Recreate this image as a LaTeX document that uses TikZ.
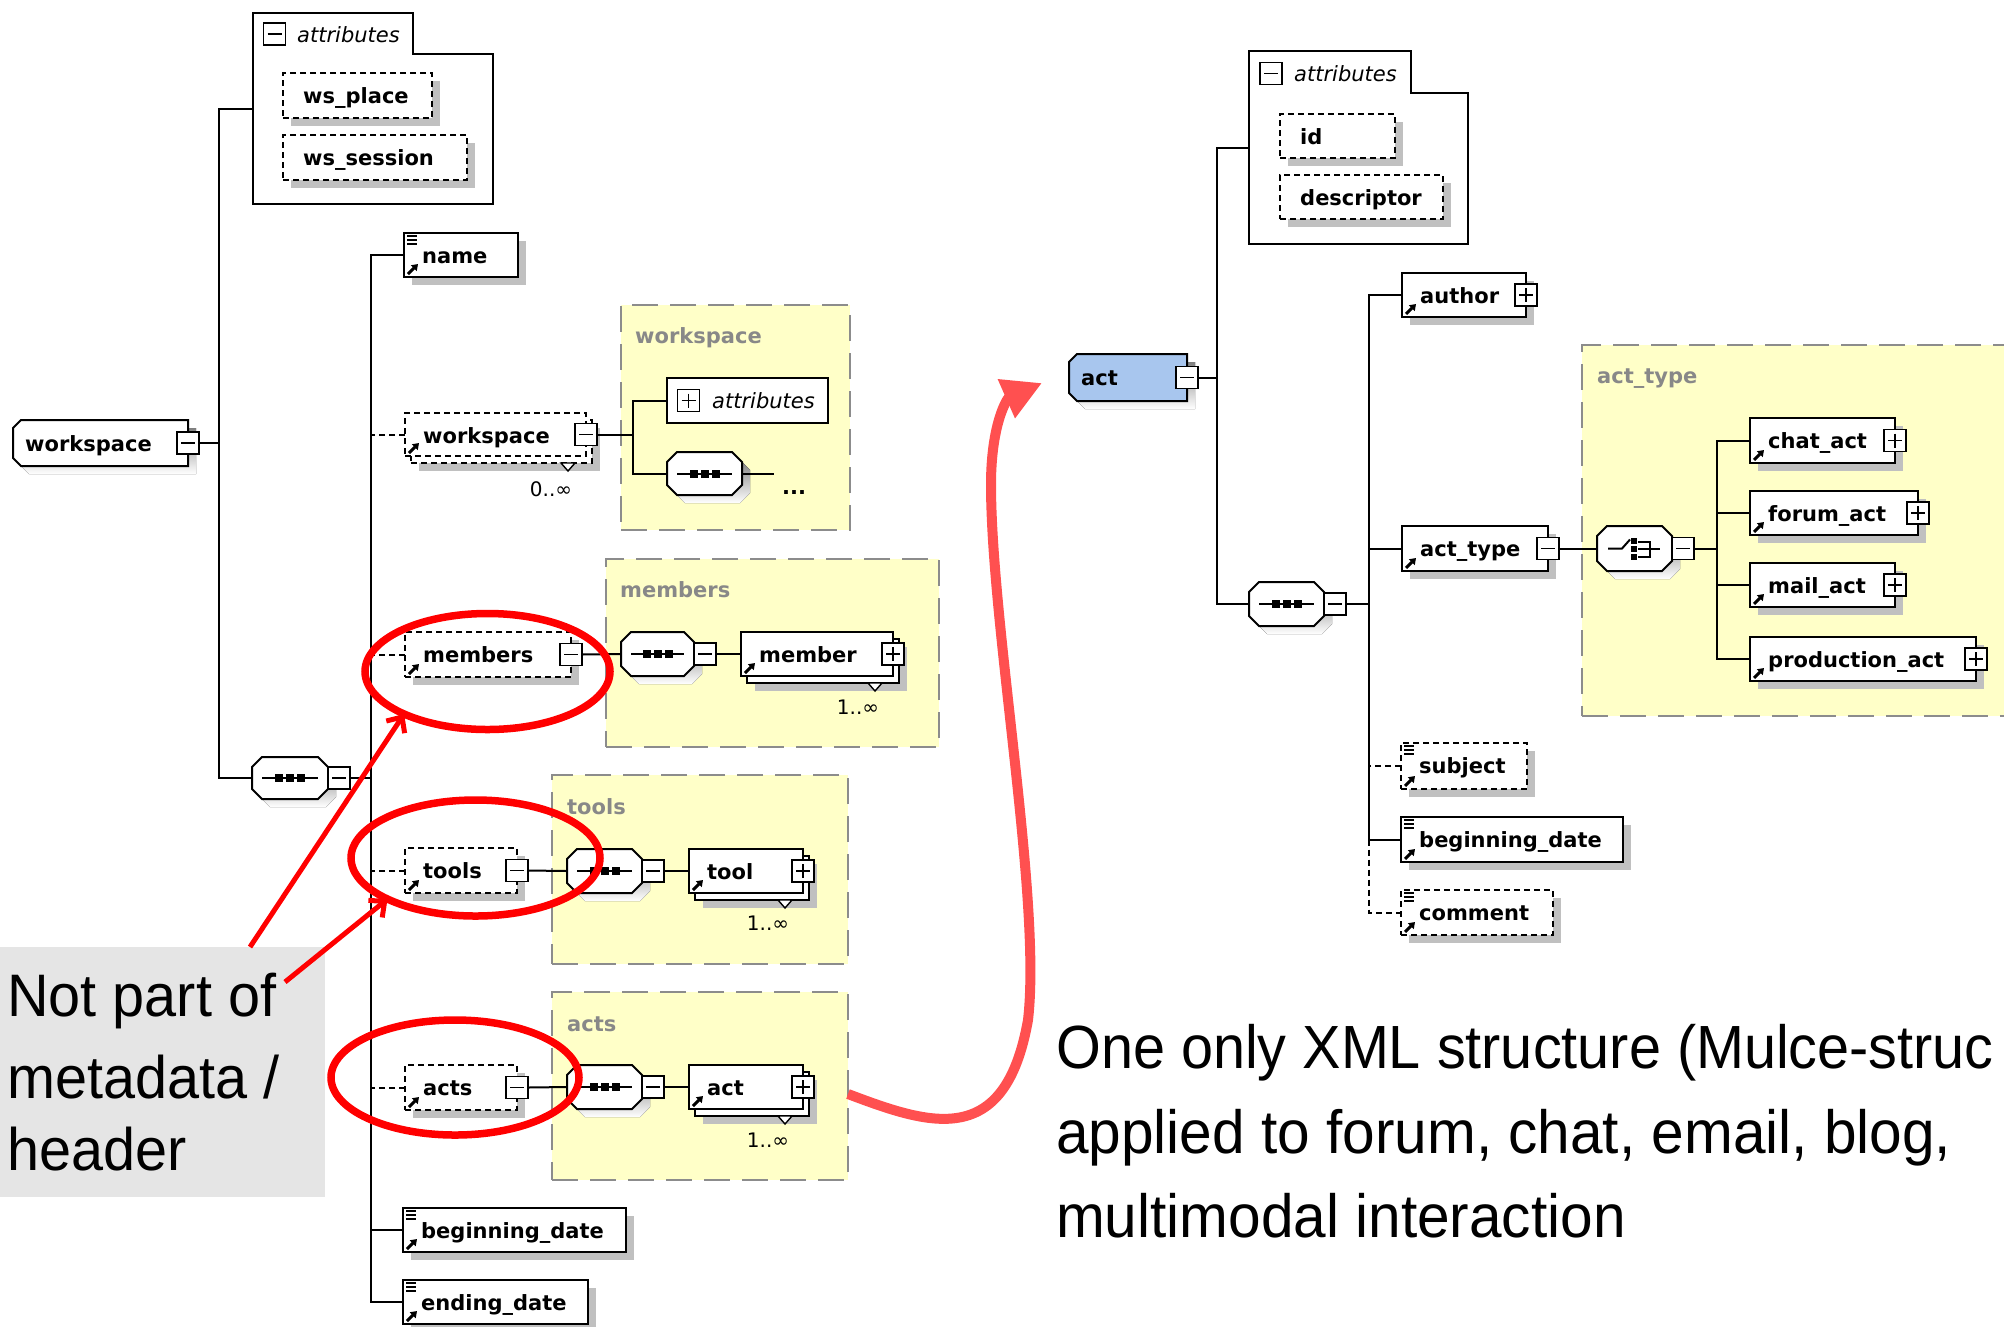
\documentclass[tikz,border=0pt]{standalone}
\usepackage{fontspec}
\setmainfont{DejaVu Sans}
\newfontfamily\notefont[FakeStretch=0.96]{Liberation Sans}
\newfontfamily\tightfont[FakeStretch=0.944]{Liberation Sans}
\usetikzlibrary{arrows.meta,shapes.geometric,shadows,calc}

\definecolor{shade}{HTML}{C0C0C0}
\definecolor{pale}{HTML}{FFFFC8}
\definecolor{framegray}{HTML}{8C8C8C}
\definecolor{labelgray}{HTML}{888888}
\definecolor{rootblue}{HTML}{A8C6EE}
\definecolor{notegray}{HTML}{E5E5E5}
\definecolor{curvered}{HTML}{FF5050}

\newcommand\tagfont{\bfseries\fontsize{21}{21}\selectfont}
\newcommand\attrfont{\itshape\fontsize{21}{21}\selectfont}
\newcommand\countfont{\fontsize{20}{20}\selectfont}

% element box: [options]{name}{x}{y}{width}{height}{text}
\newcommand\elembox[7][]{%
  \node[elembase,shadowed,#1,minimum width=#5pt,minimum height=#6pt] (#2) at (#3,#4) {};
  \node[tagtext] (#2-t) at ($(#2.north west)+(18,30)$) {#7};
  \draw[refmark] ($(#2.south west)+(4,-3)$) -- ++(10,-10);
}
% element with several occurrences (stacked pair of boxes)
\newcommand\multibox[7][]{%
  \node[elembase,shadowed,#1,minimum width=#5pt,minimum height=#6pt] (#2-b) at ($(#3,#4)+(6,7)$) {};
  \draw[line width=1.4pt, fill=white] ($(#2-b.south east)+(-31,0)$) -- ++(14,0) -- ++(-7,8) -- cycle;
  \node[elembase,#1,minimum width=#5pt,minimum height=#6pt] (#2) at (#3,#4) {};
  \node[tagtext] (#2-t) at ($(#2.north west)+(18,30)$) {#7};
  \draw[refmark] ($(#2.south west)+(4,-3)$) -- ++(10,-10);
}
% attribute box: {name}{x}{y}{width}{height}{text}
\newcommand\attrbox[6]{%
  \node[elembase,optdash,shadowed,minimum width=#4pt,minimum height=#5pt] (#1) at (#2,#3) {};
  \node[tagtext] (#1-t) at ($(#1.north west)+(20,30)$) {#6};
}
% simple-content marker
\newcommand\listicon[1]{%
  \foreach \k in {3,7,11}{\draw[line width=1.7pt] ($(#1.north west)+(3,\k)$) -- ++(10,0);}
}
% attribute group folder: {name}{tab width}{tab height}
\newcommand\folderbox[3]{%
  \draw[line width=2pt, fill=white] (#1.north west) -- ($(#1.north west)+(#2,0)$)
    -- ($(#1.north west)+(#2,#3)$) -- ($(#1.north east)+(0,#3)$)
    -- (#1.south east) -- (#1.south west) -- cycle;
}
% root element: {name}{x}{y}{width}{height}{text}{fill}
\newcommand\topelement[7]{%
  \node[holder,minimum width=#4pt,minimum height=#5pt] (#1) at (#2,#3) {};
  \begin{scope}[transform canvas={xshift=8pt,yshift=-8pt}]
    \fill[shade] ($(#1.north west)+(8,0)$) -- (#1.north east) -- (#1.south east)
      -- ($(#1.south west)+(8,0)$) -- ($(#1.south west)+(0,-8)$) -- ($(#1.north west)+(0,8)$) -- cycle;
  \end{scope}
  \draw[line width=2pt, fill=#7] ($(#1.north west)+(8,0)$) -- (#1.north east) -- (#1.south east)
      -- ($(#1.south west)+(8,0)$) -- ($(#1.south west)+(0,-8)$) -- ($(#1.north west)+(0,8)$) -- cycle;
  \node[tagtext] (#1-t) at ($(#1.north west)+(12,31)$) {#6};
}
% octagonal compositor outline
\newcommand\octshape[1]{%
  \begin{scope}[transform canvas={xshift=8pt,yshift=-8pt}]
    \fill[shade] ($(#1.north west)+(10,0)$) -- ($(#1.north east)+(-10,0)$) -- ($(#1.north east)+(0,10)$)
      -- ($(#1.south east)+(0,-10)$) -- ($(#1.south east)+(-10,0)$) -- ($(#1.south west)+(10,0)$)
      -- ($(#1.south west)+(0,-10)$) -- ($(#1.north west)+(0,10)$) -- cycle;
  \end{scope}
  \draw[line width=2pt, fill=white] ($(#1.north west)+(10,0)$) -- ($(#1.north east)+(-10,0)$) -- ($(#1.north east)+(0,10)$)
      -- ($(#1.south east)+(0,-10)$) -- ($(#1.south east)+(-10,0)$) -- ($(#1.south west)+(10,0)$)
      -- ($(#1.south west)+(0,-10)$) -- ($(#1.north west)+(0,10)$) -- cycle;
}
% sequence compositor: {name}{x}{y}{width}{height}
\newcommand\seqbox[5]{%
  \node[holder,minimum width=#4pt,minimum height=#5pt] (#1) at (#2,#3) {};
  \octshape{#1}
  \draw[line width=2pt] ($(#1.west)+(10,0)$) -- ($(#1.east)+(-10,0)$);
  \foreach \d in {-11,0,11}{\fill ($(#1.center)+(\d,0)$) +(-4,-4) rectangle +(4,4);}
}
% choice compositor: {name}{x}{y}{width}{height}
\newcommand\choicebox[5]{%
  \node[holder,minimum width=#4pt,minimum height=#5pt] (#1) at (#2,#3) {};
  \octshape{#1}
  \draw[line width=2pt] ($(#1.west)+(11,0)$) -- ++(14,0) -- ++(8,-9);
  \foreach \d in {-8,0,8}{\fill ($(#1.west)+(37,\d)$) +(-3,-3) rectangle +(3,3);}
  \draw[line width=2pt] ($(#1.west)+(41,-7)$) -- ++(12,0) -- ++(0,15) -- ++(-12,0);
  \draw[line width=2pt] ($(#1.west)+(41,0)$) -- ++(22,0);
}

\begin{document}
\begin{tikzpicture}[x=1pt,y=-1pt,
  holder/.style={rectangle,anchor=north west,inner sep=0pt,outer sep=0pt},
  elembase/.style={rectangle,draw,fill=white,line width=2pt,anchor=north west,inner sep=0pt,outer sep=0pt},
  shadowed/.style={drop shadow={shadow xshift=8pt,shadow yshift=-8pt,fill=shade,opacity=1}},
  optdash/.style={dash pattern=on 6pt off 4pt},
  tagtext/.style={anchor=base west,inner sep=0pt,font=\tagfont},
  attrtext/.style={anchor=base west,inner sep=0pt,font=\attrfont},
  count/.style={inner sep=0pt,font=\countfont},
  refmark/.style={line width=3pt,-{Triangle[length=6pt,width=8pt]}},
  wire/.style={line width=2pt},
  pm/.style={draw,fill=white,line width=1.7pt,minimum width=22pt,minimum height=22pt,inner sep=0pt,outer sep=0pt},
  minusbox/.style={pm,path picture={\draw[line width=1.7pt] ([xshift=4pt]path picture bounding box.west) -- ([xshift=-4pt]path picture bounding box.east);}},
  plusbox/.style={pm,path picture={\draw[line width=1.7pt] ([xshift=4pt]path picture bounding box.west) -- ([xshift=-4pt]path picture bounding box.east);
      \draw[line width=1.7pt] ([yshift=-4pt]path picture bounding box.north) -- ([yshift=4pt]path picture bounding box.south);}},
  ybox/.style={rectangle,draw=framegray,fill=pale,line width=2pt,dash pattern=on 26pt off 12pt,anchor=north west,inner sep=0pt,outer sep=0pt},
  ylabel/.style={anchor=base west,inner sep=0pt,font=\tagfont,text=labelgray},
  notebox/.style={rectangle,fill=notegray,anchor=north west,inner sep=0pt,outer sep=0pt},
  notetext/.style={anchor=base west,inner sep=0pt,font=\notefont\fontsize{60}{60}\selectfont},
  bodytext/.style={anchor=base west,inner sep=0pt,font=\notefont\fontsize{61}{61}\selectfont},
  ring/.style={ellipse,draw=red,line width=7.5pt,inner sep=0pt,outer sep=0pt},
  pointer/.style={draw=red,line width=5pt,-{Straight Barb[length=12pt,width=22pt]}},
  bigarrow/.style={draw=curvered,line width=10pt,-{Triangle[length=39pt,width=40pt]}}]

\useasboundingbox (0,0) rectangle (2004,1326);
\clip (0,0) rectangle (2004,1326);
\fill[white] (0,0) rectangle (2004,1326);

% ---------- type containers ----------
\node[ybox,minimum width=229pt,minimum height=225pt] (wsbox) at (621,305) {};
\node[ylabel] (wsbox-l) at (635,343) {workspace};
\node[ybox,minimum width=333pt,minimum height=188pt] (membox) at (606,559) {};
\node[ylabel] (membox-l) at (620,597) {members};
\node[ybox,minimum width=296pt,minimum height=189pt] (toolbox) at (552,775) {};
\node[ylabel] (toolbox-l) at (567,814) {tools};
\node[ybox,minimum width=296pt,minimum height=188pt] (actbox) at (552,992) {};
\node[ylabel] (actbox-l) at (567,1031) {acts};
\node[ybox,minimum width=470pt,minimum height=371pt] (typebox) at (1582,345) {};
\node[ylabel] (typebox-l) at (1597,383) {act\_type};

% ---------- workspace schema ----------
\node[holder,minimum width=240pt,minimum height=191pt] (attrL) at (253,13) {};
\folderbox{attrL}{160}{41}
\node[minusbox] (attrL-m) at (274.5,34) {};
\node[attrtext] (attrL-t) at (297,42) {attributes};
\attrbox{wsplace}{283}{73}{149}{45}{ws\_place}
\attrbox{wssession}{283}{135}{184}{45}{ws\_session}

\topelement{wsroot}{13}{420}{175}{46}{workspace}{white}
\node[minusbox] (wsroot-m) at (wsroot.east) {};

\seqbox{seqL}{252}{757}{76}{42}
\node[minusbox,anchor=west] (seqL-m) at (seqL.east) {};

\elembox{name}{404}{233}{114}{44}{name}
\listicon{name}

\multibox[optdash]{wsc}{405}{413}{181}{43}{workspace}
\node[minusbox] (wsc-m) at (wsc.east) {};
\node[count] (wsc-n) at (551,489) {0..∞};
\node[elembase,minimum width=161pt,minimum height=45pt] (attrS) at (667,378) {};
\node[plusbox] (attrS-p) at (688.5,400.5) {};
\node[attrtext] (attrS-t) at (712,408) {attributes};
\seqbox{seqW}{667}{452}{75}{43}
\coordinate (seqW-end) at (774,473.5);
\node[tagtext] (seqW-d) at (782,494) {...};

\elembox[optdash]{mems}{405}{632}{166}{45}{members}
\node[minusbox] (mems-m) at (mems.east) {};
\seqbox{seqM}{621}{632}{73}{44}
\node[minusbox,anchor=west] (seqM-m) at (seqM.east) {};
\multibox{member}{741}{632}{152}{44}{member}
\node[plusbox] (member-p) at (member.east) {};
\node[count] (member-n) at (858,707) {1..∞};

\elembox[optdash]{tools}{405}{848}{112}{45}{tools}
\node[minusbox] (tools-m) at (tools.east) {};
\seqbox{seqT}{567}{849}{75}{44}
\node[minusbox,anchor=west] (seqT-m) at (seqT.east) {};
\multibox{tool}{689}{849}{114}{44}{tool}
\node[plusbox] (tool-p) at (tool.east) {};
\node[count] (tool-n) at (768,923) {1..∞};

\elembox[optdash]{acts}{405}{1065}{112}{45}{acts}
\node[minusbox] (acts-m) at (acts.east) {};
\seqbox{seqA}{567}{1065}{75}{44}
\node[minusbox,anchor=west] (seqA-m) at (seqA.east) {};
\multibox{actc}{689}{1065}{114}{44}{act}
\node[plusbox] (actc-p) at (actc.east) {};
\node[count] (actc-n) at (768,1140) {1..∞};

\elembox{begL}{403}{1208}{223}{44}{beginning\_date}
\listicon{begL}
\elembox{endL}{403}{1280}{185}{44}{ending\_date}
\listicon{endL}

% connectors of the workspace schema
\coordinate (trunkA) at (219,0);
\coordinate (trunkB) at (371,0);
\coordinate (trunkC) at (633,0);
\draw[wire] (attrL.west) -- (attrL.west -| trunkA) |- (seqL.west);
\draw[wire] (wsroot-m.east) -- (wsroot-m.east -| trunkA);
\draw[wire] (name.west) -- (name.west -| trunkB) |- (endL.west);
\draw[wire] (seqL-m.east) -- (seqL-m.east -| trunkB);
\draw[wire] (begL.west) -- (begL.west -| trunkB);
\draw[wire,optdash] (wsc.west) -- (wsc.west -| trunkB);
\draw[wire,optdash] (mems.west) -- (mems.west -| trunkB);
\draw[wire,optdash] (tools.west) -- (tools.west -| trunkB);
\draw[wire,optdash] (acts.west) -- (acts.west -| trunkB);
\draw[wire] (wsc-m.east) -- (wsc-m.east -| trunkC);
\draw[wire] (attrS.west) -- (attrS.west -| trunkC) |- (seqW.west);
\draw[wire] (seqW.east) -- (seqW-end);
\draw[wire] (mems-m.east) -- (seqM.west);
\draw[wire] (seqM-m.east) -- (member.west);
\draw[wire] (tools-m.east) -- (seqT.west);
\draw[wire] (seqT-m.east) -- (tool.west);
\draw[wire] (acts-m.east) -- (seqA.west);
\draw[wire] (seqA-m.east) -- (actc.west);

% ---------- act schema ----------
\node[holder,minimum width=219pt,minimum height=193pt] (attrR) at (1249,51) {};
\folderbox{attrR}{162}{42}
\node[minusbox] (attrR-m) at (1271,73.5) {};
\node[attrtext] (attrR-t) at (1294,81) {attributes};
\attrbox{idattr}{1280}{114}{115}{44}{id}
\attrbox{descattr}{1280}{175}{163}{44}{descriptor}

\topelement{actroot}{1069}{354}{118}{47}{act}{rootblue}
\node[minusbox] (actroot-m) at (actroot.east) {};
\seqbox{seqR}{1249}{582}{75}{44}
\node[minusbox,anchor=west] (seqR-m) at (seqR.east) {};

\elembox{author}{1402}{273}{124}{44}{author}
\node[plusbox] (author-p) at (author.east) {};
\elembox{acttype}{1402}{526}{146}{45}{act\_type}
\node[minusbox] (acttype-m) at (acttype.east) {};
\choicebox{choice}{1597}{526}{75}{45}
\node[minusbox,anchor=west] (choice-m) at (choice.east) {};

\elembox{chat}{1750}{418}{145}{45}{chat\_act}
\node[plusbox] (chat-p) at (chat.east) {};
\elembox{forum}{1750}{491}{168}{44}{forum\_act}
\node[plusbox] (forum-p) at (forum.east) {};
\elembox{mail}{1750}{563}{145}{44}{mail\_act}
\node[plusbox] (mail-p) at (mail.east) {};
\elembox{prod}{1750}{637}{226}{44}{production\_act}
\node[plusbox] (prod-p) at (prod.east) {};

\elembox[optdash]{subject}{1401}{743}{126}{46}{subject}
\listicon{subject}
\elembox{begR}{1401}{817}{222}{45}{beginning\_date}
\listicon{begR}
\elembox[optdash]{comment}{1401}{890}{152}{45}{comment}
\listicon{comment}

% connectors of the act schema
\coordinate (trunkD) at (1217,0);
\coordinate (trunkE) at (1369,0);
\coordinate (trunkF) at (1717,0);
\draw[wire] (attrR.west) -- (attrR.west -| trunkD) |- (seqR.west);
\draw[wire] (actroot-m.east) -- (actroot-m.east -| trunkD);
\draw[wire] (author.west) -- (author.west -| trunkE) |- (begR.west);
\draw[wire,optdash] (begR.west -| trunkE) |- (comment.west);
\draw[wire] (seqR-m.east) -- (seqR-m.east -| trunkE);
\draw[wire] (acttype.west) -- (acttype.west -| trunkE);
\draw[wire,optdash] (subject.west) -- (subject.west -| trunkE);
\draw[wire] (acttype-m.east) -- (choice.west);
\draw[wire] (choice-m.east) -- (choice-m.east -| trunkF);
\draw[wire] (chat.west) -- (chat.west -| trunkF) |- (prod.west);
\draw[wire] (forum.west) -- (forum.west -| trunkF);
\draw[wire] (mail.west) -- (mail.west -| trunkF);

% ---------- annotations ----------
\node[notebox,minimum width=325pt,minimum height=250pt] (note) at (0,947) {};
\node[notetext] (note-1) at (7,1016) {Not part of};
\node[notetext] (note-2) at (7,1098) {metadata /};
\node[notetext] (note-3) at (7,1170) {header};

\node[ring,minimum width=245pt,minimum height=116pt] (ringM) at (487.5,671.5) {};
\node[ring,minimum width=249pt,minimum height=116pt] (ringT) at (475.5,858) {};
\node[ring,minimum width=248pt,minimum height=115pt] (ringA) at (455,1077.5) {};

\draw[pointer] ($(note.north west)+(250,0)$) -- (ringM.207);
\draw[pointer] ($(note.north west)+(285,35)$) -- (ringT.205);

\draw[bigarrow] ($(actbox.east)+(0,8)$) .. controls (930,1125) and (1005,1150) .. (1028,1020)
  .. controls (1042,900) and (990,620) .. (991,480)
  .. controls (992,420) and (1008,398) .. ($(actroot.west)+(-27,5.5)$);

\node[bodytext,font=\tightfont\fontsize{61}{61}\selectfont] (txt-1) at (1056,1068) {One only XML structure (Mulce-struc};
\node[bodytext] (txt-2) at (1056,1153) {applied to forum, chat, email, blog,};
\node[bodytext] (txt-3) at (1056,1237) {multimodal interaction};
\end{tikzpicture}
\end{document}
